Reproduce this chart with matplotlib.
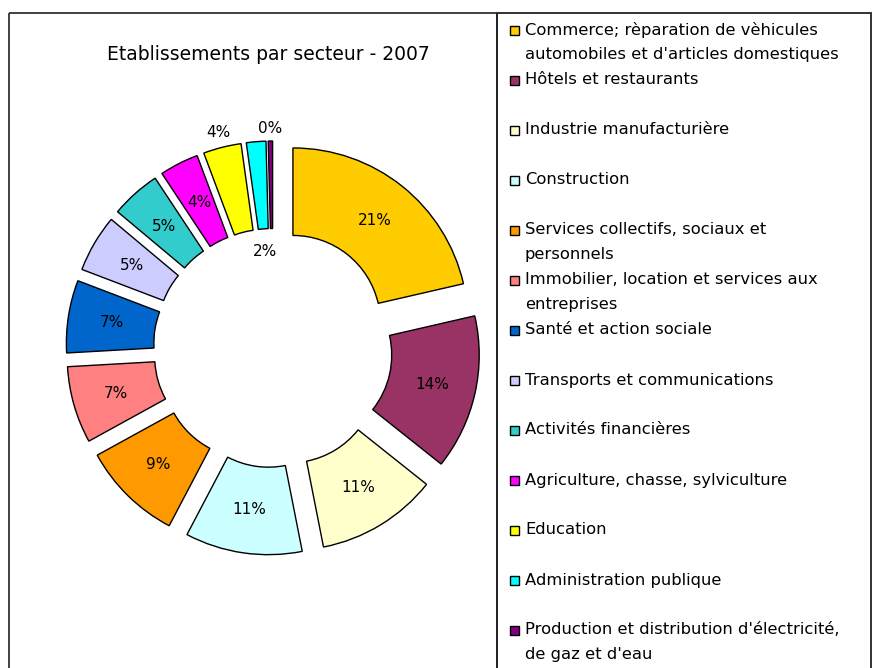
import numpy as np
import matplotlib
matplotlib.use('Agg')
import matplotlib.pyplot as plt
from matplotlib.patches import Rectangle

plt.rcParams['font.family'] = ['DejaVu Sans']

# data #########################################################
secteurs = [
    "Commerce; rèparation de vèhicules\nautomobiles et d'articles domestiques",
    "Hôtels et restaurants",
    "Industrie manufacturière",
    "Construction",
    "Services collectifs, sociaux et\npersonnels",
    "Immobilier, location et services aux\nentreprises",
    "Santé et action sociale",
    "Transports et communications",
    "Activités financières",
    "Agriculture, chasse, sylviculture",
    "Education",
    "Administration publique",
    "Production et distribution d'électricité,\nde gaz et d'eau",
]
parts = [21.4, 14.3, 11.2, 10.8, 9.3, 7.1, 6.7, 5.3, 4.6, 3.6, 3.5, 1.8, 0.4]
couleurs = ['#FFCC00', '#993366', '#FFFFCC', '#CCFFFF', '#FF9900', '#FF8080',
            '#0066CC', '#CCCCFF', '#33CCCC', '#FF00FF', '#FFFF00', '#00FFFF',
            '#800080']
titre = 'Etablissements par secteur - 2007'

# where each % label sits, as a fraction of the outer radius
label_dist = [0.75] * 13
label_dist[10] = 1.09   # Education, outside
label_dist[11] = 0.37   # Administration, in the hole
label_dist[12] = 1.07   # Production, outside

# figure in pixel units, y pointing down ########################
W, H = 873, 668
fig = plt.figure(figsize=(W / 100, H / 100), dpi=100)
ax = fig.add_axes([0, 0, 1, 1])

R = 175
cx, cy = 273, 348
wedges, _ = ax.pie(parts, colors=couleurs, radius=R, center=(cx, cy),
                   explode=[32] * len(parts), startangle=-90, counterclock=True,
                   wedgeprops=dict(width=R * 0.5, edgecolor='black', linewidth=1.0))

ax.set_xlim(0, W)
ax.set_ylim(H, 0)
ax.set_aspect('equal')
ax.axis('off')

# percent labels
for w, p, d in zip(wedges, parts, label_dist):
    mid = np.deg2rad((w.theta1 + w.theta2) / 2)
    x = w.center[0] + d * R * np.cos(mid)
    y = w.center[1] + d * R * np.sin(mid)
    ax.text(x, y, '%d%%' % round(p), ha='center', va='center', fontsize=11)

# title and frames
ax.text(268, 55, titre, ha='center', va='center', fontsize=13.5)
ax.add_patch(Rectangle((9, 13), 488, 700, fill=False, edgecolor='#333333', lw=1.3))
ax.add_patch(Rectangle((497, 13), 374, 700, fill=False, edgecolor='#222222', lw=1.3))

# legend, one slot every 50 px, extra lines every 25 px
for i, (lab, col) in enumerate(zip(secteurs, couleurs)):
    y0 = 30 + 50 * i
    ax.add_patch(Rectangle((510, y0 - 4.5), 9, 9, facecolor=col,
                           edgecolor='black', lw=1.0))
    for j, line in enumerate(lab.split('\n')):
        ax.text(525, y0 + 25 * j, line, va='center', ha='left', fontsize=11.8)

fig.savefig('out.png', dpi=100)
